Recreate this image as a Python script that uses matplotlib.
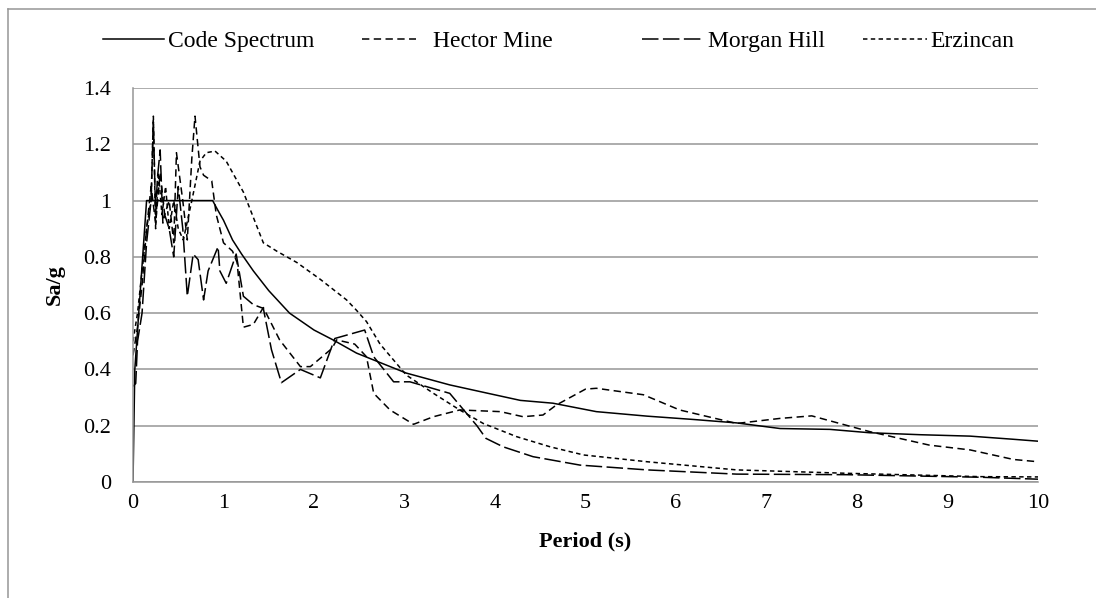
import numpy as np
import matplotlib
matplotlib.use('Agg')
import matplotlib.pyplot as plt
from matplotlib.lines import Line2D

plt.rcParams['font.family'] = ['Liberation Serif', 'DejaVu Serif']

# periods (s) and spectral accelerations (Sa/g)
code_T = [0, 0.02, 0.15, 0.88, 0.93, 1.0, 1.1, 1.2, 1.33, 1.5, 1.73, 2.0, 2.21, 2.47,
          3.02, 3.5, 3.91, 4.28, 4.64, 5.12, 5.68, 6.2, 6.67, 7.15, 7.7, 8.14, 8.7,
          9.25, 9.72, 10]
code_Sa = [0, 0.4, 1.0, 1.0, 0.97, 0.93, 0.86, 0.81, 0.75, 0.68, 0.60, 0.54, 0.505, 0.458,
           0.387, 0.345, 0.316, 0.29, 0.28, 0.25, 0.234, 0.222, 0.21, 0.19, 0.187, 0.175,
           0.168, 0.163, 0.152, 0.145]

hector_T = [0, 0.05, 0.1, 0.15, 0.2, 0.25, 0.3, 0.35, 0.4, 0.45, 0.48, 0.55, 0.6, 0.65,
            0.685, 0.74, 0.78, 0.87, 0.92, 1.0, 1.1, 1.15, 1.22, 1.33, 1.44, 1.62, 1.85,
            1.96, 2.2, 2.25, 2.45, 2.58, 2.66, 2.84, 3.1, 3.32, 3.61, 4.06, 4.31, 4.53,
            4.68, 5.0, 5.12, 5.64, 6.04, 6.67, 7.15, 7.5, 8.14, 8.8, 9.25, 9.73, 10]
hector_Sa = [0.45, 0.55, 0.7, 0.9, 1.05, 0.92, 1.1, 0.95, 1.0, 0.85, 1.17, 1.0, 0.86, 1.15,
             1.30, 1.12, 1.09, 1.07, 0.95, 0.85, 0.82, 0.78, 0.55, 0.56, 0.62, 0.505, 0.41,
             0.41, 0.475, 0.505, 0.49, 0.445, 0.315, 0.256, 0.205, 0.232, 0.256, 0.25, 0.232,
             0.238, 0.274, 0.33, 0.333, 0.31, 0.256, 0.208, 0.226, 0.235, 0.179, 0.131,
             0.114, 0.08, 0.072]

morgan_T = [0, 0.03, 0.05, 0.1, 0.15, 0.2, 0.225, 0.25, 0.27, 0.3, 0.33, 0.35, 0.4, 0.45,
            0.5, 0.55, 0.6, 0.665, 0.72, 0.78, 0.83, 0.94, 0.96, 1.03, 1.14, 1.22, 1.33,
            1.44, 1.53, 1.64, 1.85, 2.07, 2.23, 2.56, 2.66, 2.88, 3.06, 3.5, 3.8, 3.9, 4.09,
            4.42, 4.94, 5.68, 6.67, 7.88, 9.36, 10]
morgan_Sa = [0.34, 0.35, 0.5, 0.6, 0.85, 1.0, 1.28, 0.95, 1.08, 1.18, 0.92, 0.95, 0.9, 0.8,
             1.05, 0.9, 0.66, 0.81, 0.79, 0.647, 0.75, 0.836, 0.75, 0.706, 0.81, 0.66, 0.63,
             0.617, 0.47, 0.353, 0.40, 0.37, 0.51, 0.54, 0.445, 0.356, 0.356, 0.315, 0.2,
             0.155, 0.125, 0.09, 0.06, 0.043, 0.028, 0.026, 0.017, 0.01]

erz_T = [0, 0.05, 0.1, 0.15, 0.2, 0.225, 0.25, 0.28, 0.32, 0.36, 0.4, 0.45, 0.5, 0.556,
         0.65, 0.74, 0.81, 0.906, 1.03, 1.22, 1.44, 1.59, 1.81, 2.07, 2.36, 2.47, 2.58,
         2.73, 3.02, 3.32, 3.61, 3.87, 4.24, 4.61, 4.98, 5.68, 6.67, 7.88, 9.36, 10]
erz_Sa = [0.5, 0.6, 0.75, 0.9, 1.0, 1.30, 0.9, 1.1, 0.95, 1.05, 0.9, 1.0, 0.9, 0.86,
          1.0, 1.14, 1.17, 1.176, 1.14, 1.03, 0.85, 0.82, 0.78, 0.72, 0.647, 0.61, 0.57,
          0.49, 0.38, 0.315, 0.256, 0.208, 0.161, 0.125, 0.096, 0.072, 0.043, 0.031,
          0.019, 0.018]

y_ticks = [0, 0.2, 0.4, 0.6, 0.8, 1.0, 1.2, 1.4]
y_labels = ['0', '0.2', '0.4', '0.6', '0.8', '1', '1.2', '1.4']

fig = plt.figure(figsize=(10.96, 5.98), dpi=100)
ax = fig.add_axes([133/1096, 1 - 482/598, (1038 - 133)/1096, (482 - 88)/598])

grid_col = '#969696'
lw = 1.1
l_code, = ax.plot(code_T, code_Sa, color='black', lw=lw, label='Code Spectrum')
l_hec, = ax.plot(hector_T, hector_Sa, color='black', lw=lw, dashes=(4.8, 2.9), label='Hector Mine')
l_mor, = ax.plot(morgan_T, morgan_Sa, color='black', lw=lw, dashes=(10.8, 2.9), label='Morgan Hill')
l_erz, = ax.plot(erz_T, erz_Sa, color='black', lw=lw, dashes=(2.9, 2.2), label='Erzincan')

ax.set_xlim(0, 10)
ax.set_ylim(0, 1.4)
ax.set_xticks(range(0, 11))
ax.set_yticks(y_ticks)
ax.set_yticklabels(y_labels)
ax.yaxis.grid(True, color=grid_col, lw=1.1)
ax.set_axisbelow(True)
ax.tick_params(length=0, labelsize=16)
ax.tick_params(axis='y', pad=16)
ax.tick_params(axis='x', pad=9)
for s in ['top', 'right']:
    ax.spines[s].set_visible(False)
for s in ['left', 'bottom']:
    ax.spines[s].set_color(grid_col)
    ax.spines[s].set_linewidth(1.1)

ax.set_xlabel('Period (s)', fontsize=16, fontweight='bold', labelpad=13)
ax.set_ylabel('Sa/g', fontsize=16, fontweight='bold', labelpad=13)

# legend entries placed individually along the top
entries = [(l_code, 103, 0.15, 2.6), (l_hec, 362, 0.7, 2.3),
           (l_mor, 642, 0.2, 2.6), (l_erz, 863, 0.15, 2.7)]
for h, xp, tp, hl in entries:
    fig.legend([h], [h.get_label()], loc='center left',
               bbox_to_anchor=(xp/1096, 1 - 41/598), frameon=False,
               fontsize=17, handlelength=hl, handletextpad=tp,
               borderpad=0, borderaxespad=0)

# outer chart border (cropped at right and bottom)
fig.add_artist(Line2D([8/1096, 1], [1 - 9/598, 1 - 9/598], color=grid_col, lw=1.1))
fig.add_artist(Line2D([8/1096, 8/1096], [0, 1 - 9/598], color=grid_col, lw=1.1))

fig.savefig('out.png', dpi=100)
